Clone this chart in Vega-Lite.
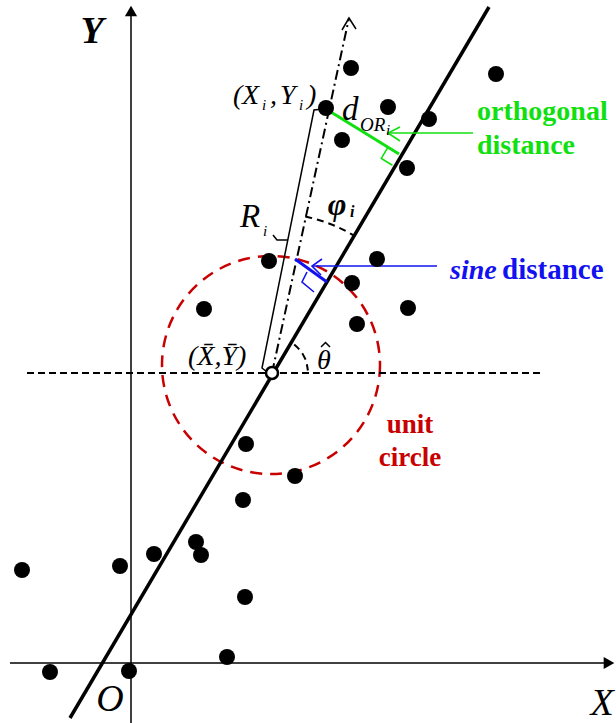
{
  "$schema": "https://vega.github.io/schema/vega-lite/v6.json",
  "width": 616,
  "height": 723,
  "autosize": {"type": "none"},
  "padding": 0,
  "background": "white",
  "config": {"view": {"stroke": null}},
  "datasets": {
    "observations": [
      {"x": 220, "y": 595}, {"x": 365, "y": 589}, {"x": 195, "y": 555},
      {"x": 257, "y": 556}, {"x": 298, "y": 544}, {"x": 211, "y": 523},
      {"x": 276, "y": 495}, {"x": 138, "y": 402}, {"x": 246, "y": 404},
      {"x": 221, "y": 380}, {"x": 73, "y": 354}, {"x": 277, "y": 355},
      {"x": 226, "y": 339}, {"x": 115, "y": 219}, {"x": 164, "y": 187},
      {"x": 112, "y": 163}, {"x": 65, "y": 121}, {"x": 70, "y": 108},
      {"x": 23, "y": 109}, {"x": -11, "y": 97}, {"x": -109, "y": 93},
      {"x": 114, "y": 66}, {"x": 96, "y": 6}, {"x": -2, "y": -8},
      {"x": -81, "y": -9}
    ],
    "segments": [
      {"part": "x-axis", "seq": 0, "x": -121, "y": 0},
      {"part": "x-axis", "seq": 1, "x": 476, "y": 0},
      {"part": "y-axis", "seq": 0, "x": 0, "y": -60},
      {"part": "y-axis", "seq": 1, "x": 0, "y": 648},
      {"part": "mean-level", "seq": 0, "x": -104, "y": 290},
      {"part": "mean-level", "seq": 1, "x": 412, "y": 290},
      {"part": "fit", "seq": 0, "x": -61, "y": -55},
      {"part": "fit", "seq": 1, "x": 358, "y": 656},
      {"part": "direction", "seq": 0, "x": 141, "y": 290},
      {"part": "direction", "seq": 1, "x": 218, "y": 645},
      {"part": "direction-head", "seq": 0, "x": 211, "y": 633},
      {"part": "direction-head", "seq": 1, "x": 218, "y": 645},
      {"part": "direction-head", "seq": 2, "x": 225, "y": 634},
      {"part": "radius", "seq": 0, "x": 136, "y": 291},
      {"part": "radius", "seq": 1, "x": 131, "y": 295},
      {"part": "radius", "seq": 2, "x": 183, "y": 553},
      {"part": "radius", "seq": 3, "x": 192, "y": 554},
      {"part": "radius-tick", "seq": 0, "x": 142, "y": 428},
      {"part": "radius-tick", "seq": 1, "x": 146, "y": 423},
      {"part": "radius-tick", "seq": 2, "x": 157, "y": 423},
      {"part": "theta-hat", "seq": 0, "x": 190, "y": 316},
      {"part": "theta-hat", "seq": 1, "x": 194.5, "y": 320.5},
      {"part": "theta-hat", "seq": 2, "x": 199, "y": 316},
      {"part": "orthogonal", "seq": 0, "x": 195, "y": 554},
      {"part": "orthogonal", "seq": 1, "x": 268, "y": 509},
      {"part": "orthogonal-mark", "seq": 0, "x": 261.4, "y": 497.8},
      {"part": "orthogonal-mark", "seq": 1, "x": 250.3, "y": 504.6},
      {"part": "orthogonal-mark", "seq": 2, "x": 257, "y": 515.8},
      {"part": "orthogonal-pointer", "seq": 0, "x": 342, "y": 530},
      {"part": "orthogonal-pointer", "seq": 1, "x": 257, "y": 530},
      {"part": "orthogonal-pointer-head", "seq": 0, "x": 269, "y": 536},
      {"part": "orthogonal-pointer-head", "seq": 1, "x": 257, "y": 530},
      {"part": "orthogonal-pointer-head", "seq": 2, "x": 269, "y": 522},
      {"part": "sine", "seq": 0, "x": 164, "y": 404},
      {"part": "sine", "seq": 1, "x": 196, "y": 381},
      {"part": "sine-mark", "seq": 0, "x": 176, "y": 391},
      {"part": "sine-mark", "seq": 1, "x": 171, "y": 381},
      {"part": "sine-mark", "seq": 2, "x": 183, "y": 371},
      {"part": "sine-pointer", "seq": 0, "x": 306, "y": 397},
      {"part": "sine-pointer", "seq": 1, "x": 181, "y": 397},
      {"part": "sine-pointer-head", "seq": 0, "x": 191, "y": 404},
      {"part": "sine-pointer-head", "seq": 1, "x": 181, "y": 397},
      {"part": "sine-pointer-head", "seq": 2, "x": 190, "y": 388},
      {"part": "phi-arc", "seq": 0, "x": 174.3, "y": 446.5},
      {"part": "phi-arc", "seq": 1, "x": 185.1, "y": 443.8},
      {"part": "phi-arc", "seq": 2, "x": 195.7, "y": 440.4},
      {"part": "phi-arc", "seq": 3, "x": 206.1, "y": 436.2},
      {"part": "phi-arc", "seq": 4, "x": 216.1, "y": 431.3},
      {"part": "phi-arc", "seq": 5, "x": 222.7, "y": 427.6},
      {"part": "theta-arc", "seq": 0, "x": 163.2, "y": 318.4},
      {"part": "theta-arc", "seq": 1, "x": 168.6, "y": 313.1},
      {"part": "theta-arc", "seq": 2, "x": 172.8, "y": 306.9},
      {"part": "theta-arc", "seq": 3, "x": 175.6, "y": 299.9},
      {"part": "theta-arc", "seq": 4, "x": 176.9, "y": 292.5}
    ]
  },
  "encoding": {
    "x": {"field": "x", "type": "quantitative", "scale": {"domain": [-131, 485], "nice": false, "zero": false}, "axis": null},
    "y": {"field": "y", "type": "quantitative", "scale": {"domain": [-60, 663], "nice": false, "zero": false}, "axis": null}
  },
  "layer": [
    {
      "data": {"values": [{"x": 140, "y": 298}]},
      "mark": {"type": "point", "shape": "circle", "filled": false, "size": 47524, "stroke": "#c80000", "strokeWidth": 2.5, "strokeDash": [12, 8], "opacity": 1}
    },
    {
      "data": {"name": "segments"},
      "transform": [{"filter": {"field": "part", "oneOf": ["x-axis", "y-axis", "radius", "radius-tick", "direction-head", "theta-hat"]}}],
      "mark": {"type": "line", "color": "black", "strokeWidth": 1.5},
      "encoding": {"detail": {"field": "part"}, "order": {"field": "seq"}}
    },
    {
      "data": {"name": "segments"},
      "transform": [{"filter": {"field": "part", "equal": "mean-level"}}],
      "mark": {"type": "line", "color": "black", "strokeWidth": 2, "strokeDash": [7, 4]},
      "encoding": {"order": {"field": "seq"}}
    },
    {
      "data": {"name": "segments"},
      "transform": [{"filter": {"field": "part", "oneOf": ["phi-arc", "theta-arc"]}}],
      "mark": {"type": "line", "color": "black", "strokeWidth": 2, "strokeDash": [7, 5], "interpolate": "monotone"},
      "encoding": {"detail": {"field": "part"}, "order": {"field": "seq"}}
    },
    {
      "data": {"name": "segments"},
      "transform": [{"filter": {"field": "part", "equal": "direction"}}],
      "mark": {"type": "line", "color": "black", "strokeWidth": 2, "strokeDash": [10, 4, 2, 4]},
      "encoding": {"order": {"field": "seq"}}
    },
    {
      "data": {"name": "segments"},
      "transform": [{"filter": {"field": "part", "equal": "fit"}}],
      "mark": {"type": "line", "color": "black", "strokeWidth": 3.5},
      "encoding": {"order": {"field": "seq"}}
    },
    {
      "data": {"name": "segments"},
      "transform": [{"filter": {"field": "part", "equal": "orthogonal"}}],
      "mark": {"type": "line", "color": "#10e010", "strokeWidth": 3},
      "encoding": {"order": {"field": "seq"}}
    },
    {
      "data": {"name": "segments"},
      "transform": [{"filter": {"field": "part", "oneOf": ["orthogonal-mark", "orthogonal-pointer", "orthogonal-pointer-head"]}}],
      "mark": {"type": "line", "color": "#10e010", "strokeWidth": 1.6},
      "encoding": {"detail": {"field": "part"}, "order": {"field": "seq"}}
    },
    {
      "data": {"name": "segments"},
      "transform": [{"filter": {"field": "part", "equal": "sine"}}],
      "mark": {"type": "line", "color": "#1212f0", "strokeWidth": 3},
      "encoding": {"order": {"field": "seq"}}
    },
    {
      "data": {"name": "segments"},
      "transform": [{"filter": {"field": "part", "oneOf": ["sine-mark", "sine-pointer", "sine-pointer-head"]}}],
      "mark": {"type": "line", "color": "#1212f0", "strokeWidth": 1.6},
      "encoding": {"detail": {"field": "part"}, "order": {"field": "seq"}}
    },
    {
      "data": {"values": [{"axis": "X", "x": 478, "y": 0}]},
      "mark": {"type": "point", "shape": "triangle-right", "filled": true, "color": "black", "size": 150, "opacity": 1}
    },
    {
      "data": {"values": [{"axis": "Y", "x": 0, "y": 652}]},
      "mark": {"type": "point", "shape": "triangle-up", "filled": true, "color": "black", "size": 150, "opacity": 1}
    },
    {
      "data": {"name": "observations"},
      "mark": {"type": "point", "shape": "circle", "filled": true, "color": "black", "size": 256, "opacity": 1}
    },
    {
      "data": {"values": [{"x": 141, "y": 290}]},
      "mark": {"type": "point", "shape": "circle", "filled": true, "fill": "white", "stroke": "black", "strokeWidth": 2.5, "size": 144, "opacity": 1}
    },
    {
      "data": {"values": [{"text": "Y", "x": -39, "y": 631}]},
      "mark": {"type": "text", "font": "Liberation Serif", "fontSize": 38, "fontWeight": "bold", "fontStyle": "italic", "align": "center", "baseline": "middle", "color": "black"},
      "encoding": {"text": {"field": "text"}}
    },
    {
      "data": {"values": [{"text": "X", "x": 471, "y": -41}, {"text": "O", "x": -21, "y": -37}]},
      "mark": {"type": "text", "font": "Liberation Serif", "fontSize": 38, "fontStyle": "italic", "align": "center", "baseline": "middle", "color": "black"},
      "encoding": {"text": {"field": "text"}}
    },
    {
      "data": {"values": [
        {"text": "(", "x": 102, "y": 559},
        {"text": "X", "x": 111, "y": 559},
        {"text": ",", "x": 139, "y": 559},
        {"text": "Y", "x": 149, "y": 559},
        {"text": ")", "x": 176, "y": 559},
        {"text": "(X̄,Ȳ)", "x": 57, "y": 298},
        {"text": "θ", "x": 186, "y": 294}
      ]},
      "mark": {"type": "text", "font": "Liberation Serif", "fontSize": 28, "fontStyle": "italic", "align": "left", "baseline": "alphabetic", "color": "black"},
      "encoding": {"text": {"field": "text"}}
    },
    {
      "data": {"values": [
        {"text": "d", "x": 211, "y": 543},
        {"text": "R", "x": 109, "y": 436}
      ]},
      "mark": {"type": "text", "font": "Liberation Serif", "fontSize": 33, "fontStyle": "italic", "align": "left", "baseline": "alphabetic", "color": "black"},
      "encoding": {"text": {"field": "text"}}
    },
    {
      "data": {"values": [{"text": "OR", "x": 229, "y": 532}]},
      "mark": {"type": "text", "font": "Liberation Serif", "fontSize": 19, "fontStyle": "italic", "align": "left", "baseline": "alphabetic", "color": "black"},
      "encoding": {"text": {"field": "text"}}
    },
    {
      "data": {"values": [
        {"text": "i", "x": 131, "y": 553},
        {"text": "i", "x": 168, "y": 553},
        {"text": "i", "x": 132, "y": 427},
        {"text": "i", "x": 255, "y": 528}
      ]},
      "mark": {"type": "text", "font": "Liberation Serif", "fontSize": 15, "fontStyle": "italic", "align": "left", "baseline": "alphabetic", "color": "black"},
      "encoding": {"text": {"field": "text"}}
    },
    {
      "data": {"values": [{"text": "φ", "x": 206, "y": 458}]},
      "mark": {"type": "text", "font": "Liberation Serif", "fontSize": 32, "fontWeight": "bold", "fontStyle": "italic", "align": "center", "baseline": "middle", "color": "black"},
      "encoding": {"text": {"field": "text"}}
    },
    {
      "data": {"values": [{"text": "i", "x": 219, "y": 446}]},
      "mark": {"type": "text", "font": "Liberation Serif", "fontSize": 16, "fontWeight": "bold", "fontStyle": "italic", "align": "left", "baseline": "alphabetic", "color": "black"},
      "encoding": {"text": {"field": "text"}}
    },
    {
      "data": {"values": [
        {"text": "orthogonal", "x": 346, "y": 543},
        {"text": "distance", "x": 346, "y": 509}
      ]},
      "mark": {"type": "text", "font": "Liberation Serif", "fontSize": 28, "fontWeight": "bold", "align": "left", "baseline": "alphabetic", "color": "#10e010"},
      "encoding": {"text": {"field": "text"}}
    },
    {
      "data": {"values": [{"text": "sine", "x": 319, "y": 384}]},
      "mark": {"type": "text", "font": "Liberation Serif", "fontSize": 28, "fontWeight": "bold", "fontStyle": "italic", "align": "left", "baseline": "alphabetic", "color": "#1212f0"},
      "encoding": {"text": {"field": "text"}}
    },
    {
      "data": {"values": [{"text": "distance", "x": 371, "y": 384}]},
      "mark": {"type": "text", "font": "Liberation Serif", "fontSize": 29, "fontWeight": "bold", "align": "left", "baseline": "alphabetic", "color": "#1212f0"},
      "encoding": {"text": {"field": "text"}}
    },
    {
      "data": {"values": [
        {"text": "unit", "x": 279, "y": 230},
        {"text": "circle", "x": 279, "y": 197}
      ]},
      "mark": {"type": "text", "font": "Liberation Serif", "fontSize": 27, "fontWeight": "bold", "align": "center", "baseline": "alphabetic", "color": "#c80000"},
      "encoding": {"text": {"field": "text"}}
    }
  ]
}
